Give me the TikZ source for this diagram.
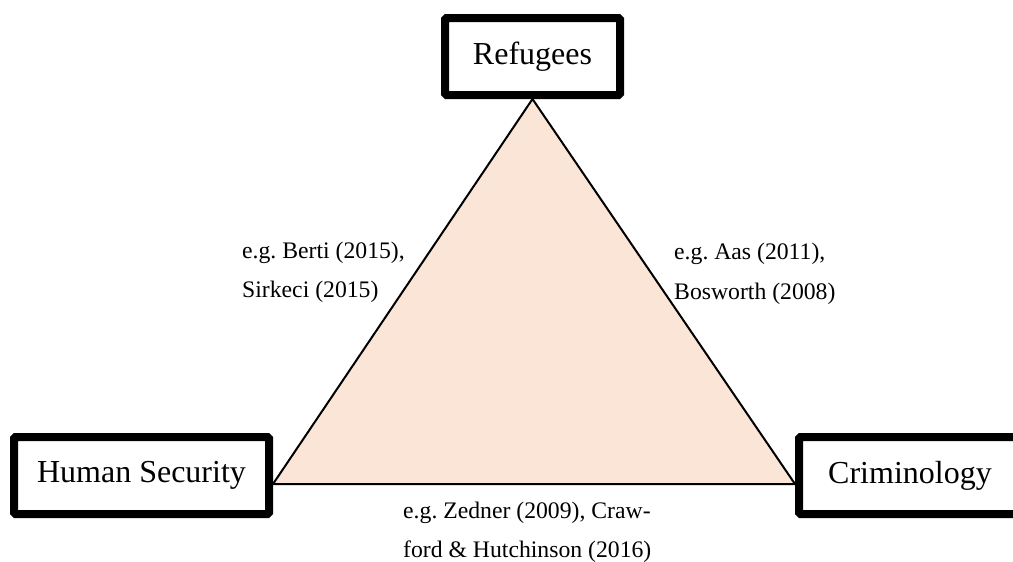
\documentclass[tikz,border=0pt]{standalone}
\usepackage{fontspec}
\setmainfont{Liberation Serif}
\usepackage{xcolor}
\usepackage{tikz}
\frenchspacing
\definecolor{peach}{HTML}{FBE5D6}
\pgfdeclarelayer{bg}
\pgfsetlayers{bg,main}
\tikzset{
  field/.style={draw, fill=white, line width=8pt, rounded corners=1.5pt, inner sep=0pt, minimum height=77pt, font=\fontsize{32}{38}\selectfont},
  cite/.style={anchor=north west, inner sep=0pt, align=left, font=\fontsize{23.7}{39.5}\selectfont}
}
\begin{document}
\begin{tikzpicture}[x=1pt, y=-1pt]
    \clip (0,0) rectangle (1013,562);
    % Define nodes
    \node[field, minimum width=175pt] (ref) at (532.5,56.5) {Refugees};
    \node[field, minimum width=255pt] (hs) at (141.5,475.5) {Human Security};
    \node[field, minimum width=222pt] (crim) at (910,475.5) {Criminology};

    % Draw triangle
    \begin{pgfonlayer}{bg}
    \filldraw[fill=peach, line width=2pt] (ref.south) -- ([yshift=-8.5pt]hs.east) -- ([yshift=-8.5pt]crim.west) -- cycle;
    \end{pgfonlayer}

    % Labels on the sides
    \node[cite] (lblhs) at (242,241.5) {e.g. Berti (2015),\\Sirkeci (2015)};
    \node[cite] (lblcrim) at (674,243) {e.g. Aas (2011),\\Bosworth (2008)};
    \node[cite] (lblbase) at (403,501.5) {e.g. Zedner (2009), Craw-\\ford \& Hutchinson (2016)};
\end{tikzpicture}
\end{document}
